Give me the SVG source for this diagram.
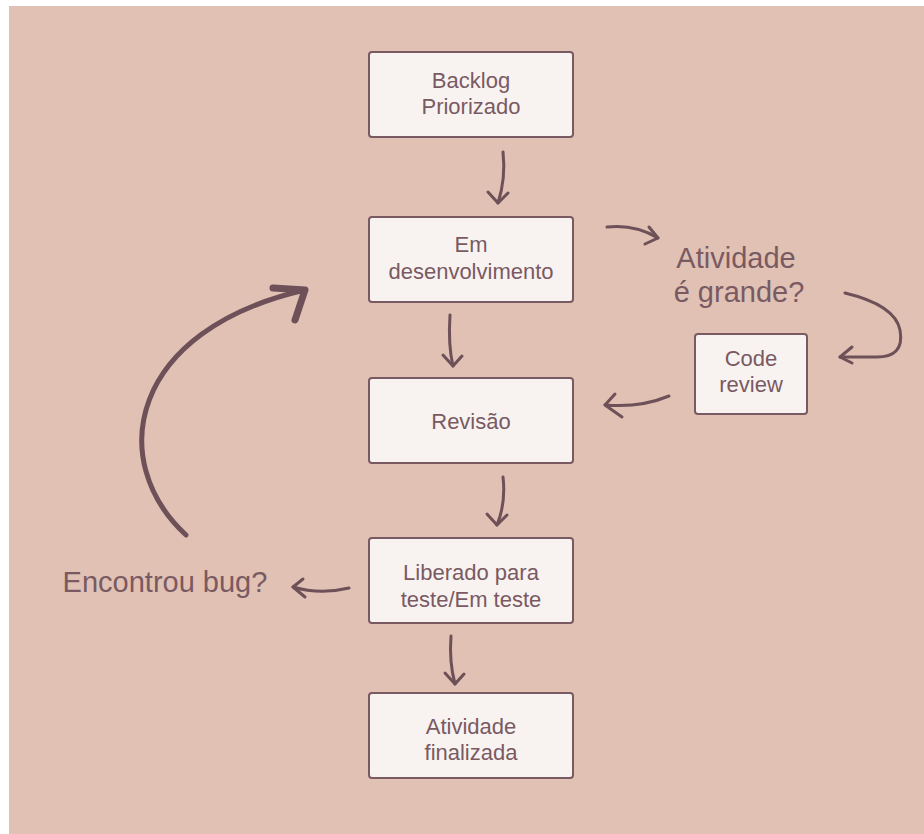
<svg xmlns="http://www.w3.org/2000/svg" width="924" height="834" viewBox="0 0 924 834">
<style>
.box{fill:#f8f3f1;stroke:#7a5a62;stroke-width:2}
.t{font-family:"Liberation Sans",sans-serif;font-size:22px;fill:#7a5a62;text-anchor:middle}
.big{font-size:29px}
.c{fill:none;stroke:#6d5058;stroke-width:3;stroke-linecap:round;stroke-linejoin:round}
.thick{stroke-width:5}
.head{stroke-width:7}
</style>
<rect x="0" y="0" width="924" height="834" fill="#ffffff"/>
<rect x="9" y="6" width="915" height="828" fill="#e0c1b4"/>
<g id="backlog"><rect class="box" x="369" y="52" width="204" height="85" rx="3"/><text class="t" x="471" y="88">Backlog</text><text class="t" x="471" y="114">Priorizado</text></g>
<g id="dev"><rect class="box" x="369" y="217" width="204" height="85" rx="3"/><text class="t" x="471" y="252">Em</text><text class="t" x="471" y="279">desenvolvimento</text></g>
<g id="revisao"><rect class="box" x="369" y="378" width="204" height="85" rx="3"/><text class="t" x="471" y="429">Revisão</text></g>
<g id="teste"><rect class="box" x="369" y="538" width="204" height="85" rx="3"/><text class="t" x="471" y="580">Liberado para</text><text class="t" x="471" y="607">teste/Em teste</text></g>
<g id="final"><rect class="box" x="369" y="693" width="204" height="85" rx="3"/><text class="t" x="471" y="734">Atividade</text><text class="t" x="471" y="760">finalizada</text></g>
<g id="codereview"><rect class="box" x="695" y="334" width="112" height="80" rx="3"/><text class="t" x="751" y="366">Code</text><text class="t" x="751" y="392">review</text></g>
<g id="grande"><text class="t big" x="736" y="268">Atividade</text><text class="t big" x="739" y="302">é grande?</text></g>
<g id="bug"><text class="t big" x="165" y="592">Encontrou bug?</text></g>
<g id="connectors">
<path class="c" d="M503 152 Q506 178 498 203"/><path class="c" d="M488 192 L498 203 L508 193"/>
<path class="c" d="M607 227 Q635 224 658 238"/><path class="c" d="M649 227 L658 238 L645 244"/>
<path class="c" d="M845 293 Q895 305 900 330 Q905 358 875 357 L840 357"/><path class="c" d="M852 347 L840 357 L852 363"/>
<path class="c" d="M669 396 Q640 408 605 405"/><path class="c" d="M615 394 L605 405 L622 417"/>
<path class="c" d="M450 315 Q448 345 453 366"/><path class="c" d="M443 355 L453 366 L462 356"/>
<path class="c" d="M503 477 Q506 503 497 525"/><path class="c" d="M487 514 L497 525 L507 515"/>
<path class="c" d="M349 588 Q320 595 293 587"/><path class="c" d="M303 579 L293 587 L305 597"/>
<path class="c" d="M451 636 Q449 662 455 684"/><path class="c" d="M445 673 L455 684 L464 674"/>
<path class="c thick" d="M186 535 C105 460 130 330 305 290"/>
<path class="c head" d="M273 288 L305 290 L295 320"/>
</g>
</svg>
